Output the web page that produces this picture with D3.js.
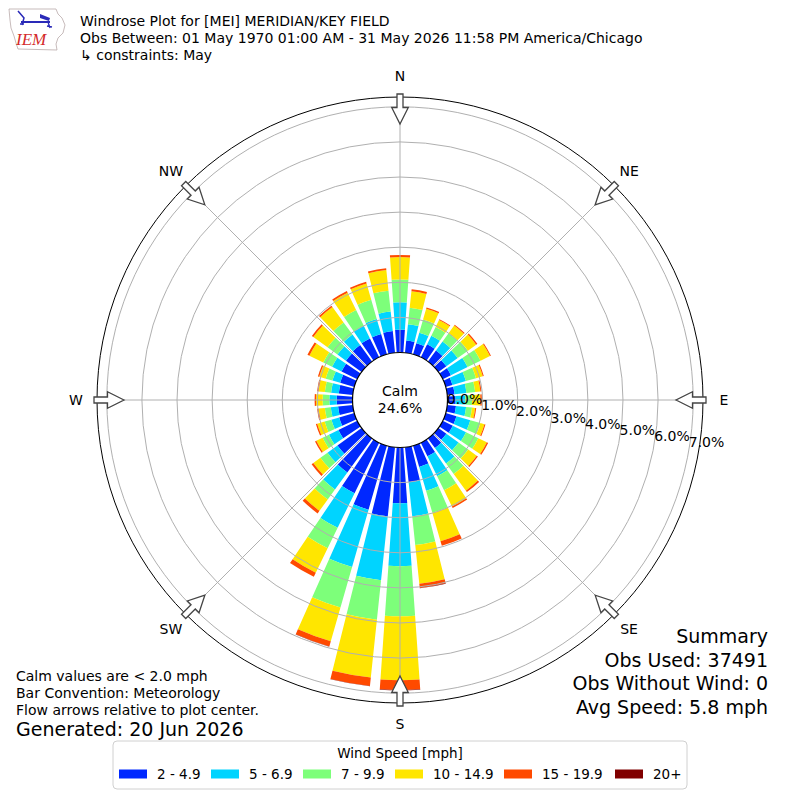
<!DOCTYPE html>
<html>
<head>
<meta charset="utf-8">
<script src="https://cdn.jsdelivr.net/npm/d3@7"></script>
<style>
  body { margin: 0; background: #fff; }
  svg { font-family: "DejaVu Sans", sans-serif; }
</style>
</head>
<body>
<svg id="chart" width="800" height="800"></svg>
<script>
// wind direction (deg, from) and frequency (%) per speed bin
const directions = [0, 10, 20, 30, 40, 50, 60, 70, 80, 90, 100, 110, 120, 130, 140, 150, 160, 170,
                    180, 190, 200, 210, 220, 230, 240, 250, 260, 270, 280, 290, 300, 310, 320, 330, 340, 350];

const speed2to5   = [0.65, 0.35, 0.33, 0.41, 0.39, 0.28, 0.26, 0.20, 0.21, 0.23, 0.25, 0.32, 0.32, 0.28, 0.34, 0.43, 0.63, 1.00,
                     1.59, 1.98, 1.90, 1.60, 1.20, 0.85, 0.60, 0.45, 0.42, 0.45, 0.40, 0.42, 0.50, 0.55, 0.58, 0.60, 0.60, 0.62];
const speed5to7   = [0.78, 0.47, 0.31, 0.27, 0.32, 0.40, 0.53, 0.40, 0.34, 0.28, 0.29, 0.41, 0.42, 0.43, 0.54, 0.63, 0.71, 0.98,
                     1.79, 1.83, 1.70, 1.10, 0.60, 0.35, 0.30, 0.23, 0.21, 0.21, 0.22, 0.23, 0.30, 0.30, 0.37, 0.40, 0.45, 0.56];
const speed7to10  = [0.65, 0.47, 0.39, 0.28, 0.29, 0.36, 0.41, 0.30, 0.25, 0.19, 0.17, 0.30, 0.39, 0.34, 0.37, 0.45, 0.65, 0.82,
                     1.43, 1.13, 1.20, 0.65, 0.35, 0.25, 0.20, 0.20, 0.17, 0.19, 0.18, 0.20, 0.28, 0.35, 0.43, 0.50, 0.57, 0.60];
const speed10to15 = [0.64, 0.47, 0.32, 0.22, 0.27, 0.29, 0.30, 0.20, 0.15, 0.24, 0.09, 0.12, 0.27, 0.30, 0.59, 0.51, 0.84, 1.11,
                     1.82, 1.66, 1.00, 0.77, 0.40, 0.25, 0.20, 0.22, 0.18, 0.19, 0.18, 0.19, 0.44, 0.50, 0.54, 0.55, 0.48, 0.59];
const speed15to20 = [0.06, 0.06, 0.04, 0.03, 0.03, 0.04, 0.03, 0.03, 0.03, 0.04, 0.03, 0.03, 0.04, 0.04, 0.05, 0.05, 0.14, 0.12,
                     0.28, 0.24, 0.15, 0.13, 0.09, 0.06, 0.04, 0.04, 0.04, 0.04, 0.04, 0.04, 0.06, 0.05, 0.05, 0.05, 0.05, 0.05];
const speed20plus = [0, 0, 0, 0, 0, 0, 0, 0, 0, 0, 0, 0, 0, 0, 0, 0, 0, 0.01,
                     0.01, 0.01, 0.01, 0, 0, 0, 0, 0, 0, 0, 0, 0, 0, 0, 0, 0, 0, 0];

const speedBins = ["2 - 4.9", "5 - 6.9", "7 - 9.9", "10 - 14.9", "15 - 19.9", "20+"];
const binColors = ["#0028ff", "#00d4ff", "#7dff7a", "#ffe600", "#ff4a00", "#800000"];

const radialTicks = [0, 1, 2, 3, 4, 5, 6, 7];
const compassLabels = ["N", "NE", "E", "SE", "S", "SW", "W", "NW"];
const calmPct = 24.6;

const titleLines = ["Windrose Plot for [MEI] MERIDIAN/KEY FIELD",
                    "Obs Between: 01 May 1970 01:00 AM - 31 May 2026 11:58 PM America/Chicago",
                    "\u21b3 constraints: May"];
const noteLines = ["Calm values are < 2.0 mph", "Bar Convention: Meteorology", "Flow arrows relative to plot center."];
const generated = "Generated: 20 Jun 2026";
const summaryLines = ["Summary", "Obs Used: 37491", "Obs Without Wind: 0", "Avg Speed: 5.8 mph"];


const svg = d3.select("#chart");
const cx = 400, cy = 400;
const rMax = 7.28;

const r = d3.scaleLinear().domain([0, rMax]).range([47.5, 303]);
const toRad = d3.scaleLinear().domain([0, 360]).range([0, 2 * Math.PI]);

// build rows for d3.stack
const binSeries = [speed2to5, speed5to7, speed7to10, speed10to15, speed15to20, speed20plus];
const rows = directions.map((dir, i) => {
    const row = { dir: dir };
    speedBins.forEach((k, j) => row[k] = binSeries[j][i]);
    return row;
});
const stacked = d3.stack().keys(speedBins)(rows);

const plot = svg.append("g").attr("transform", `translate(${cx},${cy})`);

const barArc = d3.arc()
    .innerRadius(d => r(d[0]))
    .outerRadius(d => r(d[1]))
    .startAngle(d => toRad(d.data.dir - 4))
    .endAngle(d => toRad(d.data.dir + 4));

plot.selectAll("g.bin")
    .data(stacked)
    .join("g")
    .attr("class", "bin")
    .attr("fill", (d, i) => binColors[i])
    .selectAll("path")
    .data(d => d.filter(s => s[1] > s[0]))
    .join("path")
    .attr("d", barArc);

// grid drawn over the bars
plot.selectAll("circle.ring")
    .data(radialTicks.filter(t => t > 0))
    .join("circle")
    .attr("class", "ring")
    .attr("r", d => r(d))
    .attr("fill", "none")
    .attr("stroke", "#b0b0b0")
    .attr("stroke-width", 1);

const R = r(rMax);
plot.selectAll("line.spoke")
    .data(compassLabels)
    .join("line")
    .attr("class", "spoke")
    .attr("x1", (d, i) => Math.sin(toRad(i * 45)) * r(0))
    .attr("y1", (d, i) => -Math.cos(toRad(i * 45)) * r(0))
    .attr("x2", (d, i) => Math.sin(toRad(i * 45)) * R)
    .attr("y2", (d, i) => -Math.cos(toRad(i * 45)) * R)
    .attr("stroke", "#b0b0b0")
    .attr("stroke-width", 1);

// calm circle
plot.append("circle")
    .attr("r", r(0))
    .attr("fill", "#fff")
    .attr("stroke", "#000")
    .attr("stroke-width", 1.2);

plot.append("text")
    .attr("x", 0).attr("y", -9.5)
    .attr("text-anchor", "middle")
    .attr("dominant-baseline", "central")
    .attr("font-size", 14)
    .text("Calm");
plot.append("text")
    .attr("x", 0).attr("y", 7.5)
    .attr("text-anchor", "middle")
    .attr("dominant-baseline", "central")
    .attr("font-size", 14)
    .text(calmPct.toFixed(1) + "%");

// outer frame
plot.append("circle")
    .attr("r", R)
    .attr("fill", "none")
    .attr("stroke", "#000")
    .attr("stroke-width", 1);

// radial labels
const labelAngle = 10 * Math.PI / 180;
plot.selectAll("text.rlabel")
    .data(radialTicks)
    .join("text")
    .attr("class", "rlabel")
    .attr("x", d => r(d) * Math.cos(labelAngle))
    .attr("y", d => r(d) * Math.sin(labelAngle) - 9)
    .attr("dominant-baseline", "central")
    .attr("font-size", 14)
    .text(d => d.toFixed(1) + "%");

// flow arrows pointing to the center
const tipR = R - 27, headR = R - 10.5, tailR = R + 3;
const arrowPts = [[0, -tipR], [8.3, -headR], [3, -headR], [3, -tailR],
                  [-3, -tailR], [-3, -headR], [-8.3, -headR]];
plot.selectAll("polygon.arrow")
    .data(compassLabels)
    .join("polygon")
    .attr("class", "arrow")
    .attr("points", arrowPts.map(p => p.join(",")).join(" "))
    .attr("transform", (d, i) => `rotate(${i * 45})`)
    .attr("fill", "#fff")
    .attr("stroke", "#444")
    .attr("stroke-width", 1.3);

plot.selectAll("text.compass")
    .data(compassLabels)
    .join("text")
    .attr("class", "compass")
    .attr("x", (d, i) => Math.sin(toRad(i * 45)) * (R + 21))
    .attr("y", (d, i) => -Math.cos(toRad(i * 45)) * (R + 21))
    .attr("text-anchor", "middle")
    .attr("dominant-baseline", "central")
    .attr("font-size", 14)
    .text(d => d);

// header
svg.selectAll("text.title")
    .data(titleLines)
    .join("text")
    .attr("class", "title")
    .attr("x", 80)
    .attr("y", (d, i) => 20.5 + i * 17)
    .attr("dominant-baseline", "central")
    .attr("font-size", 14)
    .text(d => d);

// IEM logo (rough)
const logo = svg.append("g");
logo.append("path")
    .attr("d", "M9,9 L56,9 L58,14 L62,18 L65,25 L63,33 L58,38 L56,44 L57,50 L18,49 L16,43 L14,36 L11,28 L10,20 Z")
    .attr("fill", "none")
    .attr("stroke", "#b9a9a9")
    .attr("stroke-width", 0.8);
logo.append("line").attr("x1", 21).attr("y1", 22).attr("x2", 50).attr("y2", 22)
    .attr("stroke", "#2a2ab8").attr("stroke-width", 2);
logo.append("path").attr("d", "M40,14 L50,18 L49,21 L40,18 Z").attr("fill", "#2a2ab8");
logo.append("path").attr("d", "M18,11 L24,18 L22,25 M20,24 L24,24").attr("fill", "none")
    .attr("stroke", "#2a2ab8").attr("stroke-width", 1.5);
logo.append("path").attr("d", "M48,22 L50,28 M47,26 L52,27").attr("fill", "none")
    .attr("stroke", "#2a2ab8").attr("stroke-width", 1.3);
logo.append("text")
    .attr("x", 16).attr("y", 45)
    .attr("font-family", "Liberation Serif, serif")
    .attr("font-style", "italic")
    .attr("font-size", 17)
    .attr("fill", "#d42a2a")
    .text("IEM");

// notes bottom left
svg.selectAll("text.note")
    .data(noteLines)
    .join("text")
    .attr("class", "note")
    .attr("x", 16)
    .attr("y", (d, i) => 676 + i * 17)
    .attr("dominant-baseline", "central")
    .attr("font-size", 14)
    .text(d => d);
svg.append("text")
    .attr("x", 16).attr("y", 729)
    .attr("dominant-baseline", "central")
    .attr("font-size", 19)
    .text(generated);

// summary bottom right
svg.selectAll("text.summary")
    .data(summaryLines)
    .join("text")
    .attr("class", "summary")
    .attr("x", 768)
    .attr("y", (d, i) => 636 + i * 23.5)
    .attr("text-anchor", "end")
    .attr("dominant-baseline", "central")
    .attr("font-size", 19)
    .text(d => d);

// legend
const legend = svg.append("g");
legend.append("rect")
    .attr("x", 113).attr("y", 741)
    .attr("width", 574).attr("height", 48)
    .attr("rx", 4)
    .attr("fill", "#fff")
    .attr("stroke", "#d0d0d0");
legend.append("text")
    .attr("x", 400).attr("y", 753)
    .attr("text-anchor", "middle")
    .attr("dominant-baseline", "central")
    .attr("font-size", 13.5)
    .text("Wind Speed [mph]");

const itemX = [119, 211, 303, 395, 504, 615];
const item = legend.selectAll("g.item")
    .data(speedBins)
    .join("g")
    .attr("class", "item")
    .attr("transform", (d, i) => `translate(${itemX[i]},774)`);
item.append("rect")
    .attr("x", 0).attr("y", -4.5)
    .attr("width", 28).attr("height", 9)
    .attr("fill", (d, i) => binColors[i]);
item.append("text")
    .attr("x", 38).attr("y", 0)
    .attr("dominant-baseline", "central")
    .attr("font-size", 13.5)
    .text(d => d);
</script>
</body>
</html>
